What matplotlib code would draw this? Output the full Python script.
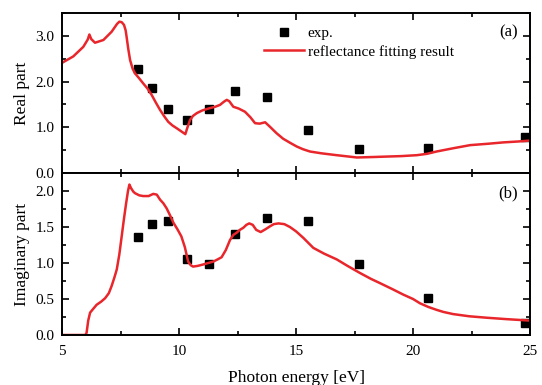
import matplotlib
matplotlib.use("Agg")
import matplotlib.pyplot as plt
from matplotlib.ticker import MultipleLocator

plt.rcParams['font.family'] = ['Liberation Serif', 'DejaVu Serif']
plt.rcParams['mathtext.fontset'] = 'stix'

# Experimental points (photon energy in eV)
exp_energy = [8.26, 8.86, 9.54, 10.33, 11.27, 12.40, 13.78, 15.50, 17.71, 20.66, 24.80]
exp_real = [2.28, 1.85, 1.41, 1.15, 1.40, 1.79, 1.67, 0.94, 0.53, 0.54, 0.79]
exp_imag = [1.36, 1.54, 1.58, 1.06, 0.99, 1.40, 1.63, 1.58, 0.99, 0.51, 0.17]

# Reflectance fitting result, real part
fit_real_e = [5.0, 5.48, 5.91, 6.10, 6.17, 6.25, 6.41, 6.77, 7.12, 7.35, 7.45, 7.55, 7.65,
              7.72, 7.76, 7.83, 7.91, 8.02, 8.12, 8.30, 8.47, 8.65, 8.83, 9.0, 9.19, 9.37,
              9.54, 9.72, 9.90, 10.10, 10.27, 10.35, 10.47, 10.60, 10.76, 11.0, 11.32, 11.55,
              11.75, 11.92, 12.04, 12.15, 12.32, 12.55, 12.82, 13.05, 13.25, 13.45, 13.68,
              13.89, 14.17, 14.45, 14.75, 15.03, 15.30, 15.60, 16.10, 16.74, 17.60, 18.30,
              18.88, 19.50, 20.16, 20.60, 21.00, 21.70, 22.44, 23.20, 23.86, 24.50, 25.0]
fit_real = [2.41, 2.55, 2.76, 2.92, 3.03, 2.93, 2.85, 2.91, 3.09, 3.26, 3.31, 3.30, 3.24,
            3.12, 2.98, 2.72, 2.47, 2.28, 2.18, 2.07, 1.96, 1.85, 1.71, 1.55, 1.38, 1.24,
            1.12, 1.04, 0.98, 0.91, 0.85, 0.98, 1.16, 1.25, 1.31, 1.37, 1.42, 1.45,
            1.49, 1.56, 1.60, 1.57, 1.45, 1.41, 1.34, 1.22, 1.09, 1.08, 1.11,
            1.01, 0.87, 0.75, 0.66, 0.58, 0.52, 0.47, 0.43, 0.39, 0.34, 0.35,
            0.36, 0.37, 0.39, 0.42, 0.47, 0.54, 0.61, 0.64, 0.67, 0.69, 0.71]

# Reflectance fitting result, imaginary part
fit_imag_e = [5.0, 5.5, 6.0, 6.05, 6.12, 6.20, 6.30, 6.48, 6.66, 6.84, 7.00, 7.12, 7.24,
              7.34, 7.45, 7.55, 7.65, 7.74, 7.82, 7.88, 7.95, 8.05, 8.12, 8.30, 8.47,
              8.70, 8.90, 9.05, 9.19, 9.33, 9.47, 9.62, 9.76, 9.93, 10.10, 10.25, 10.39,
              10.50, 10.60, 10.80, 11.04, 11.25, 11.47, 11.65, 11.82, 12.00, 12.18, 12.32,
              12.46, 12.60, 12.75, 12.88, 13.00, 13.15, 13.30, 13.49, 13.70, 13.89, 14.05,
              14.25, 14.50, 14.74, 15.00, 15.31, 15.74, 16.20, 16.74, 17.20, 17.74, 18.20,
              18.59, 19.10, 19.59, 20.00, 20.30, 20.65, 21.00, 21.30, 21.72, 22.40, 23.14,
              24.00, 25.0]
fit_imag = [0.00, 0.00, 0.00, 0.03, 0.20, 0.31, 0.35, 0.42, 0.46, 0.51, 0.58, 0.68, 0.80,
            0.91, 1.12, 1.37, 1.62, 1.83, 2.00, 2.09, 2.04, 1.99, 1.97, 1.94, 1.93,
            1.93, 1.96, 1.95, 1.88, 1.83, 1.76, 1.66, 1.56, 1.47, 1.37, 1.22, 1.02,
            0.97, 0.95, 0.96, 0.98, 1.00, 1.02, 1.05, 1.08, 1.18, 1.32, 1.39,
            1.42, 1.46, 1.49, 1.53, 1.55, 1.53, 1.46, 1.43, 1.47, 1.51, 1.54,
            1.55, 1.54, 1.50, 1.44, 1.35, 1.21, 1.13, 1.05, 0.96, 0.86, 0.78,
            0.72, 0.64, 0.56, 0.50, 0.44, 0.39, 0.35, 0.32, 0.29, 0.26, 0.24,
            0.22, 0.20]

red = '#e8262b'

fig = plt.figure(figsize=(5.42, 3.85), dpi=100)
left, width = 0.1144, 0.8635
ax1 = fig.add_axes([left, 0.5506, width, 0.4156])
ax2 = fig.add_axes([left, 0.1299, width, 0.4207])

for ax in (ax1, ax2):
    ax.set_xlim(5, 25)
    ax.xaxis.set_major_locator(MultipleLocator(5))
    ax.xaxis.set_minor_locator(MultipleLocator(2.5))
    ax.tick_params(which='both', direction='in', top=True, right=True, width=1.2,
                   labelsize=11)
    ax.tick_params(which='major', length=5)
    ax.tick_params(which='minor', length=3)
    ax.tick_params(axis='y', which='major', pad=5.5)
    ax.tick_params(axis='x', which='major', pad=7)
    for s in ax.spines.values():
        s.set_linewidth(1.4)

ax1.plot(exp_energy, exp_real, 's', color='black', markersize=6, label='exp.')
ax1.plot(fit_real_e, fit_real, '-', color=red, lw=1.8, label='reflectance fitting result')
ax1.set_ylim(0, 3.5)
ax1.yaxis.set_major_locator(MultipleLocator(1.0))
ax1.yaxis.set_minor_locator(MultipleLocator(0.5))
ax1.yaxis.set_major_formatter(plt.FormatStrFormatter('%.1f'))
ax1.tick_params(labelbottom=False)
ax1.set_ylabel('Real part', fontsize=12.5)
ax1.text(0.975, 0.88, '(a)', transform=ax1.transAxes, ha='right', va='center', fontsize=12)
ax1.legend(loc='upper left', bbox_to_anchor=(0.412, 0.972), frameon=False, fontsize=11,
           handlelength=2.6, handletextpad=0.25, labelspacing=0.3, borderaxespad=0.2)

ax2.plot(exp_energy, exp_imag, 's', color='black', markersize=6)
ax2.plot(fit_imag_e, fit_imag, '-', color=red, lw=1.8)
ax2.set_ylim(0, 2.25)
ax2.yaxis.set_major_locator(MultipleLocator(0.5))
ax2.yaxis.set_minor_locator(MultipleLocator(0.25))
ax2.yaxis.set_major_formatter(plt.FormatStrFormatter('%.1f'))
ax2.set_ylabel('Imaginary part', fontsize=12.5)
ax2.set_xlabel('Photon energy [eV]', fontsize=12.5, labelpad=9)
ax2.text(0.975, 0.875, '(b)', transform=ax2.transAxes, ha='right', va='center', fontsize=12)

fig.align_ylabels([ax1, ax2])
fig.savefig('out.png', dpi=100)
